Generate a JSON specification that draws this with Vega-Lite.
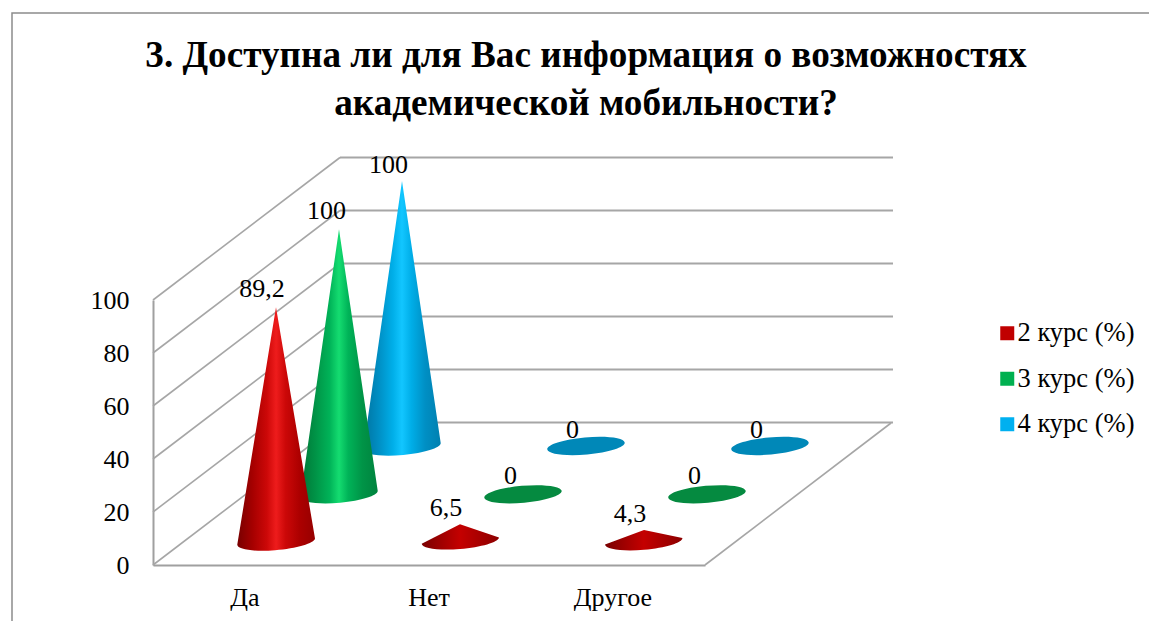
{
  "$schema": "https://vega.github.io/schema/vega-lite/v6.json",
  "width": 740,
  "height": 408,
  "autosize": {"type": "none"},
  "padding": {"left": 153, "top": 157, "right": 256, "bottom": 56},
  "background": "white",
  "config": {
    "view": {"stroke": null},
    "locale": {"number": {"decimal": ",", "thousands": " ", "grouping": [3], "currency": ["", ""]}}
  },
  "title": {
    "text": ["3. Доступна ли для Вас информация о возможностях", "академической мобильности?"],
    "font": "Liberation Serif",
    "fontSize": 37.2,
    "fontWeight": "bold",
    "color": "#000000",
    "anchor": "middle",
    "dx": 63,
    "lineHeight": 48,
    "offset": -113
  },
  "datasets": {
    "answers": [
      {"category": "Да", "series": "2 курс (%)", "value": 89.2},
      {"category": "Нет", "series": "2 курс (%)", "value": 6.5},
      {"category": "Другое", "series": "2 курс (%)", "value": 4.3},
      {"category": "Да", "series": "3 курс (%)", "value": 100},
      {"category": "Нет", "series": "3 курс (%)", "value": 0},
      {"category": "Другое", "series": "3 курс (%)", "value": 0},
      {"category": "Да", "series": "4 курс (%)", "value": 100},
      {"category": "Нет", "series": "4 курс (%)", "value": 0},
      {"category": "Другое", "series": "4 курс (%)", "value": 0}
    ],
    "ticks": [{"tick": 0}, {"tick": 20}, {"tick": 40}, {"tick": 60}, {"tick": 80}, {"tick": 100}]
  },
  "data": {"name": "answers"},
  "encoding": {
    "x": {
      "field": "category",
      "type": "nominal",
      "sort": null,
      "scale": {"type": "band", "domain": ["Да", "Нет", "Другое"], "range": [0, 552], "paddingInner": 0, "paddingOuter": 0},
      "axis": {"title": null, "ticks": false, "labelAngle": 0, "labelFont": "Liberation Serif", "labelFontSize": 26, "labelColor": "#000000", "labelPadding": 19, "domainColor": "#a0a0a0", "domainWidth": 2, "grid": false}
    },
    "y": {
      "field": "value",
      "type": "quantitative",
      "scale": {"domain": [0, 100], "range": [408, 143]},
      "axis": {"title": null, "ticks": false, "values": [0, 20, 40, 60, 80, 100], "labelFont": "Liberation Serif", "labelFontSize": 26, "labelColor": "#000000", "labelPadding": 24, "domainColor": "#a0a0a0", "domainWidth": 2, "grid": false}
    }
  },
  "layer": [
    {
      "data": {"name": "ticks"},
      "mark": {"type": "point", "shape": "M1.87 -1.425 L7.4 -1.425", "size": 40000, "filled": false, "stroke": "#a6a6a6", "strokeWidth": 1.8, "opacity": 1, "xOffset": -92},
      "encoding": {"x": {"datum": "Да", "type": "nominal"}, "y": {"field": "tick", "type": "quantitative"}}
    },
    {
      "data": {"name": "ticks"},
      "mark": {"type": "point", "shape": "M0 0 L1.87 -1.425", "size": 40000, "filled": false, "stroke": "#a6a6a6", "strokeWidth": 1.6, "opacity": 1, "xOffset": -92},
      "encoding": {"x": {"datum": "Да", "type": "nominal"}, "y": {"field": "tick", "type": "quantitative"}}
    },
    {
      "data": {"name": "ticks"},
      "transform": [{"filter": "datum.tick === 0"}],
      "mark": {"type": "point", "shape": "M5.52 0 L7.38 -1.42", "size": 40000, "filled": false, "stroke": "#a6a6a6", "strokeWidth": 1.6, "opacity": 1, "xOffset": -92},
      "encoding": {"x": {"datum": "Да", "type": "nominal"}, "y": {"field": "tick", "type": "quantitative"}}
    },
    {
      "data": {"name": "ticks"},
      "transform": [{"filter": "datum.tick === 0"}],
      "mark": {"type": "point", "shape": "M-1.41 0.56 L-1.41 -5.52 L9.96 -5.52", "size": 40000, "filled": false, "stroke": "#8c8c8c", "strokeWidth": 1.5, "opacity": 1, "xOffset": -92},
      "encoding": {"x": {"datum": "Да", "type": "nominal"}, "y": {"field": "tick", "type": "quantitative"}}
    },
    {
      "mark": {"type": "point", "filled": true, "opacity": 0, "size": 10},
      "encoding": {
        "color": {
          "field": "series",
          "type": "nominal",
          "scale": {"domain": ["2 курс (%)", "3 курс (%)", "4 курс (%)"], "range": ["#C00000", "#00B050", "#00B0F0"]},
          "legend": {"title": null, "orient": "none", "legendX": 841, "legendY": 163, "symbolType": "square", "symbolSize": 196, "symbolOpacity": 1, "symbolStrokeWidth": 0, "labelFont": "Liberation Serif", "labelFontSize": 26.5, "labelColor": "#000000", "labelOffset": -3, "rowPadding": 18.5, "labelLimit": 200}
        }
      }
    },
    {
      "transform": [{"filter": "datum.series === '4 курс (%)' && datum.value > 0"}],
      "mark": {
        "type": "point", "filled": true, "opacity": 1, "size": 40000, "strokeWidth": 0, "xOffset": 157, "yOffset": -119,
        "shape": "M0 0 L0.387 2.62 A0.388 0.085 -5 0 1 -0.387 2.69 Z",
        "fill": {"gradient": "linear", "x1": 0, "x2": 1, "y1": 0, "y2": 0, "stops": [
          {"offset": 0, "color": "#0073a0"}, {"offset": 0.2, "color": "#008fc4"}, {"offset": 0.38, "color": "#00aee8"}, {"offset": 0.5, "color": "#12c6ff"}, {"offset": 0.62, "color": "#00aee8"}, {"offset": 0.8, "color": "#008fc4"}, {"offset": 1, "color": "#0080b0"}
        ]}
      }
    },
    {
      "transform": [{"filter": "datum.series === '4 курс (%)' && datum.value === 0"}],
      "mark": {
        "type": "point", "filled": true, "opacity": 1, "size": 40000, "strokeWidth": 0, "fill": "#0088B8", "xOffset": 157, "yOffset": -119,
        "shape": "M-0.387 0.035 A0.388 0.085 -5 1 1 0.387 -0.035 A0.388 0.085 -5 1 1 -0.387 0.035 Z"
      }
    },
    {
      "transform": [{"filter": "datum.series === '3 курс (%)' && datum.value > 0"}],
      "mark": {
        "type": "point", "filled": true, "opacity": 1, "size": 40000, "strokeWidth": 0, "xOffset": 94, "yOffset": -70.7,
        "shape": "M0 0 L0.387 2.615 A0.388 0.085 -5 0 1 -0.387 2.685 Z",
        "fill": {"gradient": "linear", "x1": 0, "x2": 1, "y1": 0, "y2": 0, "stops": [
          {"offset": 0, "color": "#007536"}, {"offset": 0.2, "color": "#009447"}, {"offset": 0.38, "color": "#00b358"}, {"offset": 0.5, "color": "#14dc70"}, {"offset": 0.62, "color": "#00b358"}, {"offset": 0.8, "color": "#009447"}, {"offset": 1, "color": "#00833e"}
        ]}
      }
    },
    {
      "transform": [{"filter": "datum.series === '3 курс (%)' && datum.value === 0"}],
      "mark": {
        "type": "point", "filled": true, "opacity": 1, "size": 40000, "strokeWidth": 0, "fill": "#058A40", "xOffset": 94, "yOffset": -70.7,
        "shape": "M-0.387 0.035 A0.388 0.085 -5 1 1 0.387 -0.035 A0.388 0.085 -5 1 1 -0.387 0.035 Z"
      }
    },
    {
      "transform": [{"filter": "datum.series === '2 курс (%)' && datum.value > 50"}],
      "mark": {
        "type": "point", "filled": true, "opacity": 1, "size": 40000, "strokeWidth": 0, "xOffset": 31, "yOffset": -23,
        "shape": "M0 0.017 L0.39 2.33 A0.388 0.085 -5 0 1 -0.387 2.39 Z",
        "fill": {"gradient": "linear", "x1": 0, "x2": 1, "y1": 0, "y2": 0, "stops": [
          {"offset": 0, "color": "#780000"}, {"offset": 0.2, "color": "#a60000"}, {"offset": 0.38, "color": "#cc0808"}, {"offset": 0.5, "color": "#ee1c1c"}, {"offset": 0.62, "color": "#cc0808"}, {"offset": 0.8, "color": "#ac0000"}, {"offset": 1, "color": "#960000"}
        ]}
      }
    },
    {
      "transform": [{"filter": "datum.series === '2 курс (%)' && datum.value <= 50"}],
      "mark": {
        "type": "point", "filled": true, "opacity": 1, "size": 40000, "strokeWidth": 0, "xOffset": 31, "yOffset": -23,
        "fill": {"gradient": "linear", "x1": 0, "x2": 1, "y1": 0, "y2": 0, "stops": [
          {"offset": 0, "color": "#7a0000"}, {"offset": 0.5, "color": "#c40000"}, {"offset": 1, "color": "#8c0000"}
        ]}
      },
      "encoding": {
        "shape": {
          "field": "value",
          "type": "nominal",
          "legend": null,
          "scale": {
            "domain": [6.5, 4.3],
            "range": [
              "M0 -0.005 L0.39 0.127 A0.388 0.085 -5 0 1 -0.383 0.19 Z",
              "M0 -0.006 L0.384 0.074 A0.388 0.085 -5 0 1 -0.39 0.14 Z"
            ]
          }
        }
      }
    },
    {
      "transform": [{"filter": "datum.series === '2 курс (%)'"}],
      "mark": {"type": "text", "font": "Liberation Serif", "fontSize": 26, "color": "#000000", "dx": 17, "dy": -40},
      "encoding": {"text": {"field": "value", "type": "quantitative", "format": ".1~f"}}
    },
    {
      "transform": [{"filter": "datum.series === '3 курс (%)'"}],
      "mark": {"type": "text", "font": "Liberation Serif", "fontSize": 26, "color": "#000000", "dx": 81.5, "dy": -89.5},
      "encoding": {"text": {"field": "value", "type": "quantitative", "format": ".1~f"}}
    },
    {
      "transform": [{"filter": "datum.series === '4 курс (%)'"}],
      "mark": {"type": "text", "font": "Liberation Serif", "fontSize": 26, "color": "#000000", "dx": 143.5, "dy": -135.5},
      "encoding": {"text": {"field": "value", "type": "quantitative", "format": ".1~f"}}
    }
  ]
}
